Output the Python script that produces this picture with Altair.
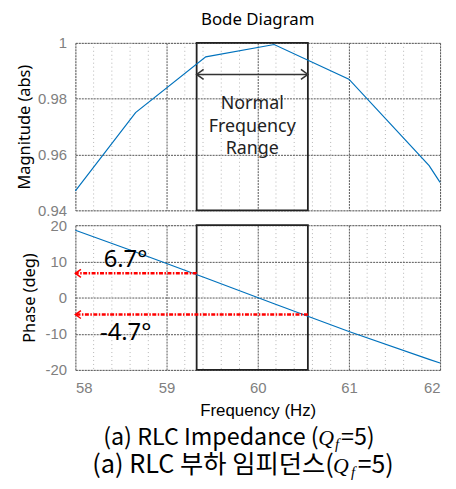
import altair as alt
import pandas as pd

# ---- data ----
freq = [58.0, 58.66, 59.43, 60.18, 61.0, 61.88, 62.0]
magnitude = [0.947, 0.975, 0.995, 0.9994, 0.987, 0.956, 0.950]
phase = [18.6, 12.6, 5.4, -1.7, -9.4, -17.1, -18.1]

x_ticks = [58, 59, 60, 61, 62]
x_minor = [58.2, 58.4, 58.6, 58.8, 59.2, 59.4, 59.6, 59.8,
           60.2, 60.4, 60.6, 60.8, 61.2, 61.4, 61.6, 61.8]
mag_ticks = [0.94, 0.96, 0.98, 1.0]
phase_ticks = [-20, -10, 0, 10, 20]

range_lo = [59.33]
range_hi = [60.55]
range_arrow_mag = [0.9887]
range_text = ["Normal\nFrequency\nRange"]
range_text_mag = [0.978]

arrow_phase = [6.7, -4.7]
arrow_start = [59.33, 60.55]
arrow_end = [58.0, 58.0]
arrow_labels = ["6.7°", "-4.7°"]
arrow_label_x = [58.31, 58.27]
arrow_label_y = [8.5, -11.7]

cap1_prefix = "(a) RLC Impedance ("
cap2_prefix = "(a) RLC 부하 임피던스("
cap_q = "Q"
cap_sub = "f"
cap_suffix = "=5)"

W, H1, H2 = 368, 169, 146
BLUE = "#0072BD"
GRID = "#555555"
LABEL_GRAY = "#808080"

xscale = alt.Scale(domain=[58, 62], nice=False, zero=False)

top_x_axis = alt.Axis(values=x_ticks, labels=False, ticks=False, domain=False,
                      grid=True, gridColor=GRID, gridDash=[2, 1], title="")
bot_x_axis = alt.Axis(values=x_ticks, ticks=False, domain=False, grid=True,
                      gridColor=GRID, gridDash=[2, 1],
                      labelFont="Liberation Sans", labelFontSize=15,
                      labelColor=LABEL_GRAY, labelPadding=11,
                      title="Frequency  (Hz)", titleFont="Liberation Sans",
                      titleFontSize=17, titleFontWeight="normal",
                      titleColor="black", titlePadding=7)
mag_axis = alt.Axis(values=mag_ticks, format=".2~f", ticks=False, domain=False,
                    grid=True, gridColor=GRID, gridDash=[2, 1],
                    labelFont="Liberation Sans", labelFontSize=15,
                    labelColor=LABEL_GRAY, labelPadding=9,
                    title="Magnitude (abs)", titleFont="Noto Sans",
                    titleFontSize=16.5, titleFontWeight="normal",
                    titleColor="black", titlePadding=5)
phase_axis = alt.Axis(values=phase_ticks, labelExpr="'' + datum.value",
                      ticks=False, domain=False, grid=True, gridColor=GRID,
                      gridDash=[2, 1], labelFont="Liberation Sans",
                      labelFontSize=15, labelColor=LABEL_GRAY, labelPadding=9,
                      title="Phase (deg)", titleFont="Noto Sans",
                      titleFontSize=16.5, titleFontWeight="normal",
                      titleColor="black", titlePadding=8)

mag_scale = alt.Scale(domain=[0.94, 1.0], nice=False, zero=False)
phase_scale = alt.Scale(domain=[-20, 20], nice=False, zero=False)

curve = pd.DataFrame({"f": freq, "mag": magnitude, "ph": phase})
minor = pd.DataFrame({"f": x_minor})
box = pd.DataFrame({"f": range_lo, "f2": range_hi})
rng_arrow = pd.DataFrame({"f": range_lo, "f2": range_hi, "v": range_arrow_mag})
rng_left = pd.DataFrame({"f": range_lo, "v": range_arrow_mag})
rng_right = pd.DataFrame({"f": range_hi, "v": range_arrow_mag})
rng_txt = pd.DataFrame({"f": [(a + b) / 2 for a, b in zip(range_lo, range_hi)],
                        "v": range_text_mag, "t": range_text})
red = pd.DataFrame({"f": arrow_start, "f2": arrow_end, "v": arrow_phase})
red_tip = pd.DataFrame({"f": arrow_end, "v": arrow_phase})
red_txt = pd.DataFrame({"f": arrow_label_x, "v": arrow_label_y, "t": arrow_labels})

LEFT_CHEV = "M1.4,-1L0,0L1.4,1"
RIGHT_CHEV = "M-1.4,-1L0,0L-1.4,1"


def panel(xaxis, yfield, yscale, yaxis):
    X = lambda f="f": alt.X(f"{f}:Q", scale=xscale, axis=xaxis)
    minor_l = alt.Chart(minor).mark_rule(color="#b5b5b5", strokeDash=[1, 3],
                                         strokeWidth=1).encode(x=X())
    box_l = alt.Chart(box).mark_rect(fillOpacity=0, stroke="#222222",
                                     strokeWidth=1.8).encode(x=X(), x2="f2:Q")
    line_l = alt.Chart(curve).mark_line(color=BLUE, strokeWidth=1.2).encode(
        x=X(), y=alt.Y(f"{yfield}:Q", scale=yscale, axis=yaxis))
    return [minor_l, box_l, line_l]


Ymag = alt.Y("v:Q", scale=mag_scale, axis=mag_axis)
Yph = alt.Y("v:Q", scale=phase_scale, axis=phase_axis)
Xt = alt.X("f:Q", scale=xscale, axis=top_x_axis)
Xb = alt.X("f:Q", scale=xscale, axis=bot_x_axis)

top_layers = panel(top_x_axis, "mag", mag_scale, mag_axis)
top_layers += [
    alt.Chart(rng_arrow).mark_rule(color="#333333", strokeWidth=1.5).encode(
        x=Xt, x2="f2:Q", y=Ymag),
    alt.Chart(rng_left).mark_point(shape=LEFT_CHEV, size=100, filled=False,
                                   color="#333333", strokeWidth=1.5, opacity=1
                                   ).encode(x=Xt, y=Ymag),
    alt.Chart(rng_right).mark_point(shape=RIGHT_CHEV, size=100, filled=False,
                                    color="#333333", strokeWidth=1.5, opacity=1
                                    ).encode(x=Xt, y=Ymag),
    alt.Chart(rng_txt).mark_text(font="Noto Sans", fontSize=18, color="#222222",
                                 lineBreak="\n", lineHeight=22.5,
                                 baseline="middle").encode(x=Xt, y=Ymag, text="t:N"),
]
top = alt.layer(*top_layers).properties(
    width=W, height=H1,
    title=alt.Title("Bode Diagram", font="Noto Sans", fontSize=17,
                    fontWeight="normal", color="black", offset=7))


def cap(txt, x, y, **kw):
    return alt.Chart(pd.DataFrame({"t": [txt]})).mark_text(
        align="left", baseline="alphabetic", color="black", **kw).encode(
        x=alt.value(x), y=alt.value(y), text="t:N")


CAPF = "Noto Sans CJK KR"
bot_layers = panel(bot_x_axis, "ph", phase_scale, phase_axis)
bot_layers += [
    alt.Chart(red).mark_rule(color="#ff0000", strokeWidth=2.5,
                             strokeDash=[4, 1.5, 1.5, 1.5]).encode(x=Xb, x2="f2:Q", y=Yph),
    alt.Chart(red_tip).mark_point(shape=LEFT_CHEV, size=64, filled=False,
                                  color="#ff0000", strokeWidth=1.5, opacity=1
                                  ).encode(x=Xb, y=Yph),
    alt.Chart(red_txt).mark_text(font="Noto Sans", fontSize=24, color="black",
                                 align="left", baseline="alphabetic"
                                 ).encode(x=Xb, y=Yph, text="t:N"),
    cap(cap1_prefix, 28, 222, font=CAPF, fontSize=23.5),
    cap(cap_q, 245, 222, font="Liberation Serif", fontStyle="italic", fontSize=22),
    cap(cap_sub, 262, 226, font="Liberation Serif", fontStyle="italic", fontSize=15),
    cap(cap_suffix, 268, 222, font=CAPF, fontSize=23.5),
    cap(cap2_prefix, 17, 250, font=CAPF, fontSize=25.5),
    cap(cap_q, 260, 250, font="Liberation Serif", fontStyle="italic", fontSize=22),
    cap(cap_sub, 278, 254, font="Liberation Serif", fontStyle="italic", fontSize=15),
    cap(cap_suffix, 285, 250, font=CAPF, fontSize=25),
]
bottom = alt.layer(*bot_layers).properties(width=W, height=H2)

chart = alt.vconcat(top, bottom, spacing=15, bounds="flush").configure_view(
    stroke="#8a8a8a", strokeWidth=2, strokeDash=[2, 1]
).properties(
    padding={"left": 8, "top": 0, "right": 5, "bottom": 5}
).configure(background="white")

chart.save("out.html", embed_options={"renderer": "svg", "actions": False})
